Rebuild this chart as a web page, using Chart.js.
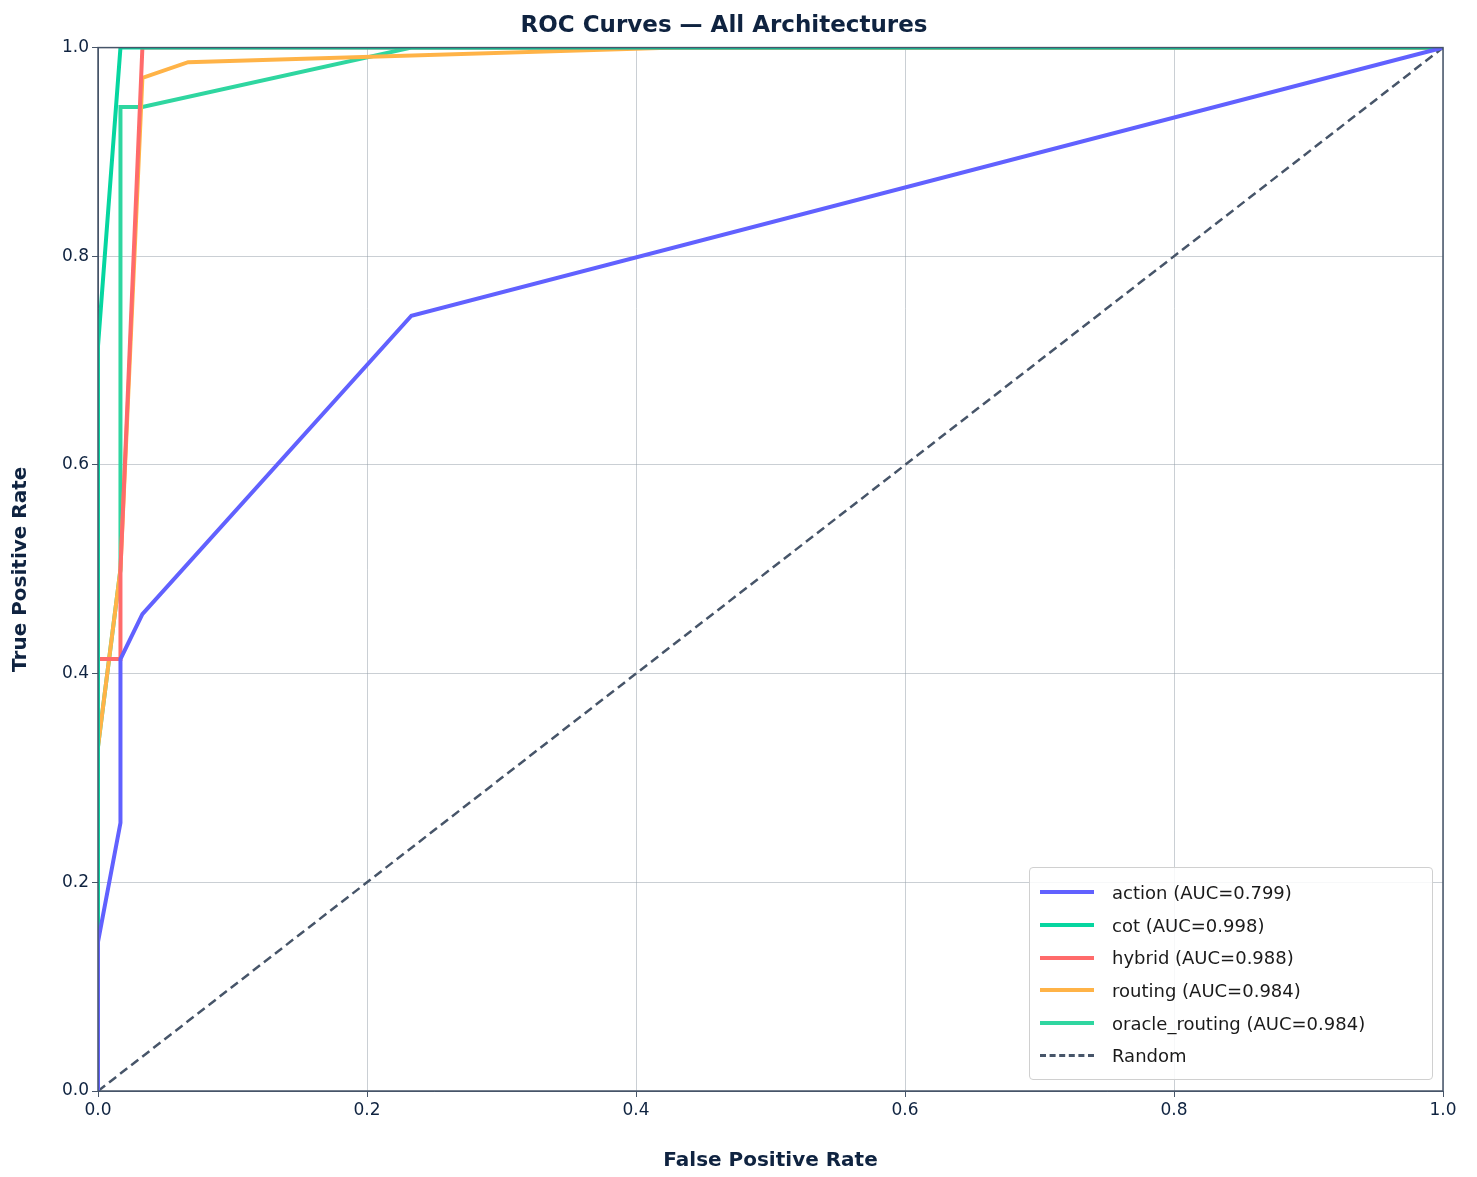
<!DOCTYPE html>
<html><head><meta charset="utf-8">
<script src="https://cdn.jsdelivr.net/npm/chart.js@4"></script>
<style>
body{margin:0;background:#fff;font-family:"DejaVu Sans",sans-serif}
#wrap{position:relative;width:1477px;height:1177px}
#legend{position:absolute;left:1029px;top:867px;width:404px;height:213px;border:1px solid #d0d0d0;border-radius:4px;background:rgba(255,255,255,0.85);box-sizing:border-box;padding:8px 10px;font-size:18px;color:#1a1a1a}
.row{display:flex;align-items:center;height:32.7px}
.sw{width:54px;margin-right:18px;height:0;border-top:4px solid}
</style></head><body>
<div id="wrap"><canvas id="c" width="1477" height="1177"></canvas><div id="legend"></div></div>
<script>
const seriesNames=["action","cot","hybrid","routing","oracle_routing"];
const aucs=[0.799,0.998,0.988,0.984,0.984];
const colors=["#6161ff","#06d6a0","#ff6b6b","#ffb347","#2fd6a0"];
const fpr_action=[0,0,0.0167,0.0167,0.033,0.233,1];
const tpr_action=[0,0.143,0.257,0.414,0.457,0.743,1];
const fpr_cot=[0,0,0.0167,1];
const tpr_cot=[0,0.714,1,1];
const fpr_hybrid=[0,0,0.0167,0.0167,0.033,1];
const tpr_hybrid=[0,0.414,0.414,0.5,1,1];
const fpr_routing=[0,0,0.0167,0.033,0.067,0.43,1];
const tpr_routing=[0,0.33,0.5,0.971,0.986,1,1];
const fpr_oracle=[0,0,0.0167,0.0167,0.033,0.233,1];
const tpr_oracle=[0,0.33,0.5,0.943,0.943,1,1];
const ticks=[0,0.2,0.4,0.6,0.8,1.0];
const fprs=[fpr_action,fpr_cot,fpr_hybrid,fpr_routing,fpr_oracle];
const tprs=[tpr_action,tpr_cot,tpr_hybrid,tpr_routing,tpr_oracle];
const ds=seriesNames.map((n,i)=>({label:`${n} (AUC=${aucs[i].toFixed(3)})`,data:fprs[i].map((x,j)=>({x,y:tprs[i][j]})),borderColor:colors[i],borderWidth:4,pointRadius:0,showLine:true,fill:false,tension:0}));
ds.push({label:"Random",data:[{x:0,y:0},{x:1,y:1}],borderColor:"#475569",borderWidth:2.5,borderDash:[9,5],pointRadius:0,showLine:true});
const leg=document.getElementById('legend');
ds.forEach(d=>{const r=document.createElement('div');r.className='row';r.innerHTML=`<span class="sw" style="border-top:${d.borderDash?'3px dashed':'4px solid'} ${d.borderColor}"></span>${d.label}`;leg.appendChild(r);});
const frame={id:'frame',afterDatasetsDraw(ch){const a=ch.chartArea,c=ch.ctx;c.save();c.strokeStyle='#475569';c.lineWidth=1.5;c.strokeRect(a.left,a.top,a.right-a.left,a.bottom-a.top);c.restore();}};
Chart.defaults.font.family='"DejaVu Sans",sans-serif';
new Chart(document.getElementById('c'),{type:'scatter',data:{datasets:ds},plugins:[frame],
options:{responsive:false,animation:false,layout:{padding:{top:0,right:34,left:5,bottom:0}},
plugins:{legend:{display:false},title:{display:true,text:'ROC Curves — All Architectures',color:'#0f2340',font:{size:23,weight:'bold',lineHeight:1.2},padding:{top:12,bottom:8}},tooltip:{enabled:false}},
scales:{x:{type:'linear',min:0,max:1,afterFit:s=>{s.height=86},afterBuildTicks:s=>{s.ticks=ticks.map(v=>({value:v}))},ticks:{callback:v=>v.toFixed(1),color:'#0f2340',font:{size:17}},grid:{color:'rgba(150,160,170,0.5)',tickColor:'#475569',tickLength:6},border:{color:'#475569'},title:{display:true,text:'False Positive Rate',color:'#0f2340',font:{size:20,weight:'bold'}}},
y:{min:0,max:1,afterFit:s=>{s.width=93},afterBuildTicks:s=>{s.ticks=ticks.map(v=>({value:v}))},ticks:{callback:v=>v.toFixed(1),color:'#0f2340',font:{size:17}},grid:{color:'rgba(150,160,170,0.5)',tickColor:'#475569',tickLength:6},border:{color:'#475569'},title:{display:true,text:'True Positive Rate',color:'#0f2340',font:{size:20,weight:'bold'}}}}}});
</script></body></html>
